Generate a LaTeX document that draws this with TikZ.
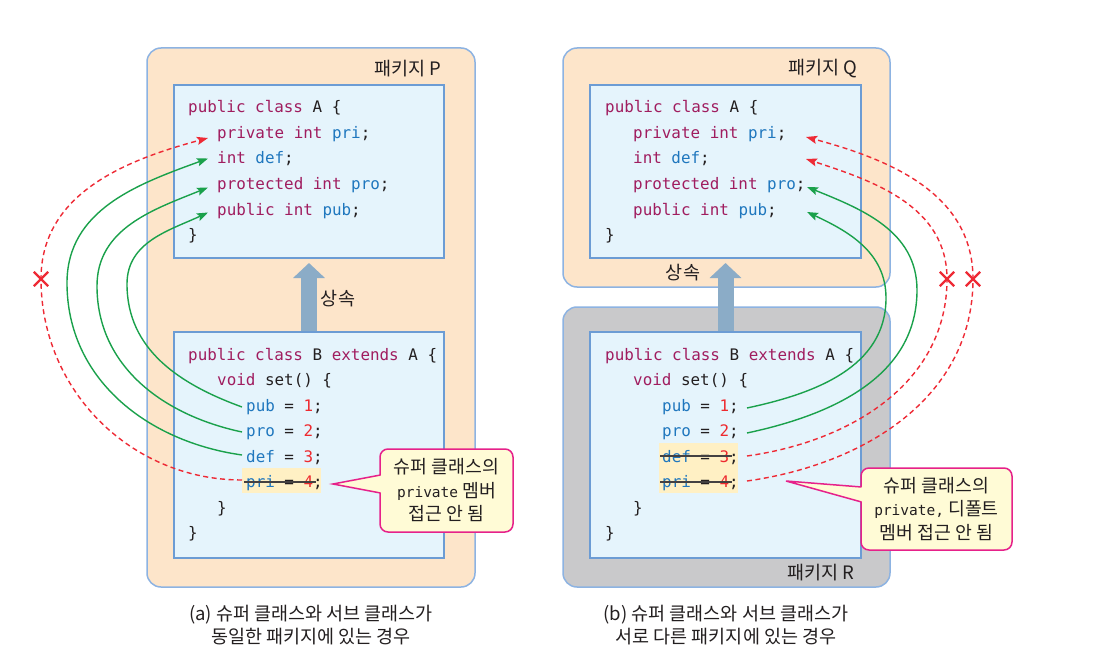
\documentclass[tikz,border=0pt]{standalone}
\usepackage{fontspec}
\setmainfont{Noto Sans CJK KR}
\newfontfamily\codefont{DejaVu Sans Mono}
\usetikzlibrary{arrows.meta,shapes.misc}
\definecolor{peach}{HTML}{FDE5CA}
\definecolor{pkgborder}{HTML}{8DB3E2}
\definecolor{classfill}{HTML}{E5F4FC}
\definecolor{classborder}{HTML}{6C9CD4}
\definecolor{greypkg}{HTML}{C9C9CB}
\definecolor{kwc}{HTML}{A01D5F}
\definecolor{idc}{HTML}{1F77BE}
\definecolor{nmc}{HTML}{EE2A2F}
\definecolor{plain}{HTML}{231F20}
\definecolor{okgreen}{HTML}{1AA14B}
\definecolor{nored}{HTML}{EE2A35}
\definecolor{callfill}{HTML}{FFFBD6}
\definecolor{callborder}{HTML}{E6218A}
\definecolor{hilite}{HTML}{FFF0C4}
\definecolor{inh}{HTML}{8BACC7}
\newcommand\kw[1]{\textcolor{kwc}{#1}}
\newcommand\idf[1]{\textcolor{idc}{#1}}
\newcommand\cn[1]{\textcolor{nmc}{#1}}
\newcommand\smallcode{\codefont\fontsize{14.5}{23.5}\selectfont}
\begin{document}
\begin{tikzpicture}[x=1pt,y=-1pt,
  pkgbox/.style={draw=pkgborder, line width=1.5pt, fill=peach, rounded corners=14pt, inner sep=0pt},
  greybox/.style={pkgbox, fill=greypkg},
  classbox/.style={draw=classborder, line width=2pt, fill=classfill, inner sep=0pt, minimum width=270pt},
  code/.style={anchor=base west, inner sep=0pt, font=\codefont\fontsize{15.9}{18}\selectfont, text=plain},
  lbl/.style={inner sep=0pt, font=\fontsize{18.5}{20}\selectfont, text=plain},
  caption/.style={inner sep=0pt, align=center, font=\fontsize{18.5}{23}\selectfont, text=plain},
  callout/.style={draw=callborder, line width=1.5pt, fill=callfill, rounded corners=8pt, inner sep=0pt, align=center, font=\fontsize{18.3}{23.5}\selectfont, text=plain},
  hl/.style={fill=hilite},
  strike/.style={draw=plain!85, line width=1.1pt},
  okarrow/.style={draw=okgreen, line width=1.4pt, -{Stealth[length=11pt,width=8pt,inset=2pt]}},
  noarrow/.style={draw=nored, line width=1.4pt, dash pattern=on 5pt off 3.5pt, -{Stealth[length=11pt,width=8pt,inset=2pt]}},
  inharrow/.style={draw=inh, line width=16pt, -{Triangle[length=15pt 0 0,width=31pt 0 0]}},
  xmark/.style={cross out, draw=nored, line width=2.3pt, minimum size=12pt, inner sep=0pt}
]
\useasboundingbox (0,0) rectangle (1103,671);
\fill[white] (0,0) rectangle (1103,671);

% ---------------- (a) ----------------
\node[pkgbox, minimum width=328pt, minimum height=539pt] (pkgP) at (311,317.5) {};
\node[lbl] (lblP) at (407.5,69) {패키지 P};
\node[classbox, minimum height=173pt] (aA) at (309,171.5) {};
\node[classbox, minimum height=226pt] (aB) at (309,445) {};
\draw[inharrow] (aB.north) -- ([yshift=-4pt]aA.south);
\node[lbl] (inhA) at (338,299) {상속};

\fill[hl] (242,468) rectangle (321,493);

\node[code] (aA0) at (188,113) {\kw{public class} A \{};
\node[code] (aA1) at (217,138.5) {\kw{private int} \idf{pri};};
\node[code] (aA2) at (217,164) {\kw{int} \idf{def};};
\node[code] (aA3) at (217,189.5) {\kw{protected int} \idf{pro};};
\node[code] (aA4) at (217,215) {\kw{public int} \idf{pub};};
\node[code] (aA5) at (188,240.5) {\}};

\node[code] (aB0) at (188,360) {\kw{public class} B \kw{extends} A \{};
\node[code] (aB1) at (217,385.5) {\kw{void} set() \{};
\node[code] (aB2) at (246,411) {\idf{pub} = \cn{1};};
\node[code] (aB3) at (246,436.5) {\idf{pro} = \cn{2};};
\node[code] (aB4) at (246,462) {\idf{def} = \cn{3};};
\node[code] (aB5) at (246,487.5) {\idf{pri} = \cn{4};};
\node[code] (aB6) at (217,513) {\}};
\node[code] (aB7) at (188,538.5) {\}};
\draw[strike] (244,482) -- (316,482);

% connector ends (a)
\coordinate (sapri) at (242,480);
\coordinate (sadef) at (242,455);
\coordinate (sapro) at (242,432);
\coordinate (sapub) at (242,407);
\coordinate (lapri) at (41,279);
\coordinate (ladef) at (67,283);
\coordinate (lapro) at (97,286);
\coordinate (lapub) at (127,284);
\coordinate (tapri) at (208,138);
\coordinate (tadef) at (208,158.5);
\coordinate (tapro) at (208,187.5);
\coordinate (tapub) at (208,212.5);

\draw[noarrow] (sapri) to[out=180,in=-90] (lapri) to[out=90,in=195] (tapri);
\draw[okarrow] (sadef) to[out=172,in=-90] (ladef) to[out=90,in=200] (tadef);
\draw[okarrow] (sapro) to[out=168,in=-90] (lapro) to[out=90,in=202] (tapro);
\draw[okarrow] (sapub) to[out=160,in=-90] (lapub) to[out=90,in=205] (tapub);
\node[xmark] (xa) at (lapri) {};

\node[callout, minimum width=133pt, minimum height=83pt] (calA) at (446.5,490.5)
  {슈퍼 클래스의\\{\smallcode private} 멤버\\접근 안 됨};
\fill[callfill] (381.6,475) -- (333,484) -- (381.6,493) -- cycle;
\draw[callborder, line width=1.5pt, line join=miter] (380.5,475) -- (333,484) -- (380.5,493);

\node[caption] (capA) at (311,625) {(a) 슈퍼 클래스와 서브 클래스가\\동일한 패키지에 있는 경우};

% ---------------- (b) ----------------
\node[pkgbox, minimum width=327pt, minimum height=239pt] (pkgQ) at (726.5,167.5) {};
\node[lbl] (lblQ) at (823,69) {패키지 Q};
\node[greybox, minimum width=327pt, minimum height=280pt] (pkgR) at (726.5,447) {};
\node[lbl] (lblR) at (821,573) {패키지 R};
\node[classbox, minimum width=271pt, minimum height=173pt] (bA) at (725.5,171.5) {};
\node[classbox, minimum width=271pt, minimum height=226pt] (bB) at (725.5,445) {};
\draw[inharrow] (bB.north) -- ([yshift=-4pt]bA.south);
\node[lbl] (inhB) at (683,273) {상속};

\fill[hl] (659,443) rectangle (738,493);

\node[code] (bA0) at (605,113) {\kw{public class} A \{};
\node[code] (bA1) at (633,138.5) {\kw{private int} \idf{pri};};
\node[code] (bA2) at (633,164) {\kw{int} \idf{def};};
\node[code] (bA3) at (633,189.5) {\kw{protected int} \idf{pro};};
\node[code] (bA4) at (633,215) {\kw{public int} \idf{pub};};
\node[code] (bA5) at (605,240.5) {\}};

\node[code] (bB0) at (605,360) {\kw{public class} B \kw{extends} A \{};
\node[code] (bB1) at (633,385.5) {\kw{void} set() \{};
\node[code] (bB2) at (662,411) {\idf{pub} = \cn{1};};
\node[code] (bB3) at (662,436.5) {\idf{pro} = \cn{2};};
\node[code] (bB4) at (662,462) {\idf{def} = \cn{3};};
\node[code] (bB5) at (662,487.5) {\idf{pri} = \cn{4};};
\node[code] (bB6) at (633,513) {\}};
\node[code] (bB7) at (605,538.5) {\}};
\draw[strike] (660,456) -- (732,456);
\draw[strike] (660,482) -- (732,482);

% connector ends (b)
\coordinate (sbpub) at (747,408);
\coordinate (sbpro) at (747,433);
\coordinate (sbdef) at (747,456);
\coordinate (sbpri) at (747,481);
\coordinate (rbpub) at (886,298);
\coordinate (rbpro) at (917,290);
\coordinate (rbdef) at (947,279);
\coordinate (rbpri) at (973,279);
\coordinate (tbpub) at (807,212);
\coordinate (tbpro) at (807,187);
\coordinate (tbdef) at (806,159);
\coordinate (tbpri) at (806,137);

\draw[okarrow] (sbpub) to[out=12,in=-90] (rbpub) to[out=90,in=-25] (tbpub);
\draw[okarrow] (sbpro) to[out=12,in=-90] (rbpro) to[out=90,in=-22] (tbpro);
\draw[noarrow] (sbdef) to[out=8,in=-90] (rbdef) to[out=90,in=-18] (tbdef);
\draw[noarrow] (sbpri) to[out=8,in=-90] (rbpri) to[out=90,in=-15] (tbpri);
\node[xmark] (xb1) at (rbdef) {};
\node[xmark] (xb2) at (rbpri) {};

\node[callout, minimum width=151pt, minimum height=82pt] (calB) at (936.5,509)
  {슈퍼 클래스의\\{\smallcode private,} 디폴트\\멤버 접근 안 됨};
\fill[callfill] (862.6,487) -- (786,481) -- (862.6,502) -- cycle;
\draw[callborder, line width=1.5pt, line join=miter] (861.5,487) -- (786,481) -- (861.5,502);

\node[caption] (capB) at (726,625) {(b) 슈퍼 클래스와 서브 클래스가\\서로 다른 패키지에 있는 경우};
\end{tikzpicture}
\end{document}
